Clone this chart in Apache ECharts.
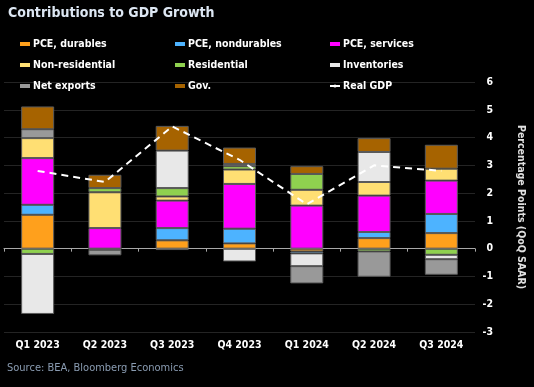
<!DOCTYPE html>
<html>
<head>
<meta charset="utf-8">
<script src="https://cdn.jsdelivr.net/npm/echarts@6/dist/echarts.min.js"></script>
<style>
html,body{margin:0;padding:0;background:#000;}
#chart{width:534px;height:387px;}
</style>
</head>
<body>
<div id="chart"></div>
<script>
const categories = ['Q1 2023','Q2 2023','Q3 2023','Q4 2023','Q1 2024','Q2 2024','Q3 2024'];
const pceDurables    = [1.22, 0.00, 0.30, 0.19, -0.10, 0.38, 0.56];
const pceNondurables = [0.36, 0.00, 0.44, 0.53, -0.07, 0.22, 0.69];
const pceServices    = [1.68, 0.74, 0.99, 1.61, 1.55, 1.31, 1.20];
const nonResidential = [0.72, 1.29, 0.15, 0.52, 0.57, 0.49, 0.43];
const residential    = [-0.19, 0.15, 0.30, 0.12, 0.57, -0.10, -0.22];
const inventories    = [-2.16, -0.04, 1.35, -0.46, -0.46, 1.08, -0.16];
const netExports     = [0.32, -0.20, -0.05, 0.08, -0.62, -0.91, -0.56];
const gov            = [0.82, 0.48, 0.89, 0.59, 0.28, 0.50, 0.86];
const realGDP        = [2.8, 2.4, 4.4, 3.2, 1.6, 3.0, 2.8];
const yTicks = [-3,-2,-1,0,1,2,3,4,5,6];

const FONT = '"DejaVu Sans Condensed", "DejaVu Sans", sans-serif';
const barDefs = [
  ['PCE, durables', pceDurables, '#FFA01C'],
  ['PCE, nondurables', pceNondurables, '#4DB3FF'],
  ['PCE, services', pceServices, '#FF00FF'],
  ['Non-residential', nonResidential, '#FFDF73'],
  ['Residential', residential, '#8FD14F'],
  ['Inventories', inventories, '#E8E8E8'],
  ['Net exports', netExports, '#999999'],
  ['Gov.', gov, '#A66300']
];
const series = barDefs.map(([name, data, color]) => ({
  name, type: 'bar', stack: 'total', data, barWidth: 33,
  xAxisIndex: 0,
  itemStyle: { color, borderColor: '#5a5a5a', borderWidth: 1 },
  emphasis: { disabled: true }
}));
series.push({
  name: 'Real GDP', type: 'line', data: realGDP, xAxisIndex: 0,
  symbol: 'none', z: 10,
  lineStyle: { color: '#ffffff', width: 2, type: [7, 5] },
  itemStyle: { color: '#ffffff' }
});

const legendBase = {
  orient: 'vertical', top: 37, padding: 0, itemWidth: 10, itemHeight: 4, itemGap: 7,
  icon: 'rect', selectedMode: false,
  itemStyle: { borderWidth: 0 },
  textStyle: { color: '#ffffff', fontFamily: FONT, fontWeight: 'bold', fontSize: 10.5, lineHeight: 14, padding: [0,0,0,-2] }
};

const chart = echarts.init(document.getElementById('chart'), null, { renderer: 'canvas' });
chart.setOption({
  backgroundColor: '#000000',
  animation: false,
  title: [
    { text: 'Contributions to GDP Growth', left: 8, top: 6, padding: 0,
      textStyle: { color: '#dde7f3', fontFamily: FONT, fontWeight: 'bold', fontSize: 14 } },
    { text: 'Source: BEA, Bloomberg Economics', left: 7, top: 363, padding: 0,
      textStyle: { color: '#8a9cb2', fontFamily: FONT, fontWeight: 'normal', fontSize: 11 } }
  ],
  legend: [
    Object.assign({}, legendBase, { left: 20, data: ['PCE, durables','Non-residential','Net exports'] }),
    Object.assign({}, legendBase, { left: 175, data: ['PCE, nondurables','Residential','Gov.'] }),
    Object.assign({}, legendBase, { left: 329, icon: null,
      data: [{name:'PCE, services', icon:'rect'}, {name:'Inventories', icon:'rect'}, {name:'Real GDP', lineStyle:{type:'solid'}}] })
  ],
  grid: { left: 4, right: 54, top: 82, bottom: 55, containLabel: false },
  xAxis: [
    { type: 'category', data: categories, position: 'bottom',
      axisLine: { show: false, onZero: false }, axisTick: { show: false },
      axisLabel: { color: '#ffffff', fontFamily: FONT, fontWeight: 'bold', fontSize: 10.5, margin: 8 } },
    { type: 'category', data: categories, position: 'bottom',
      axisLine: { show: true, onZero: true, lineStyle: { color: '#a8a8a8', width: 1 } },
      axisTick: { show: true, length: 3, lineStyle: { color: '#a8a8a8' } },
      axisLabel: { show: false } }
  ],
  yAxis: {
    type: 'value', position: 'right', min: yTicks[0], max: yTicks[yTicks.length-1], interval: 1,
    axisLine: { show: false }, axisTick: { show: false },
    splitLine: { lineStyle: { color: '#242424', width: 1 } },
    axisLabel: { color: '#ffffff', fontFamily: FONT, fontWeight: 'bold', fontSize: 10.5, align: 'right', margin: 18 },
    name: 'Percentage Points (QoQ SAAR)', nameLocation: 'middle', nameRotate: -90, nameGap: 40,
    nameTextStyle: { color: '#e0e0e0', fontFamily: FONT, fontWeight: 'bold', fontSize: 10.5 }
  },
  series
});
</script>
</body>
</html>
